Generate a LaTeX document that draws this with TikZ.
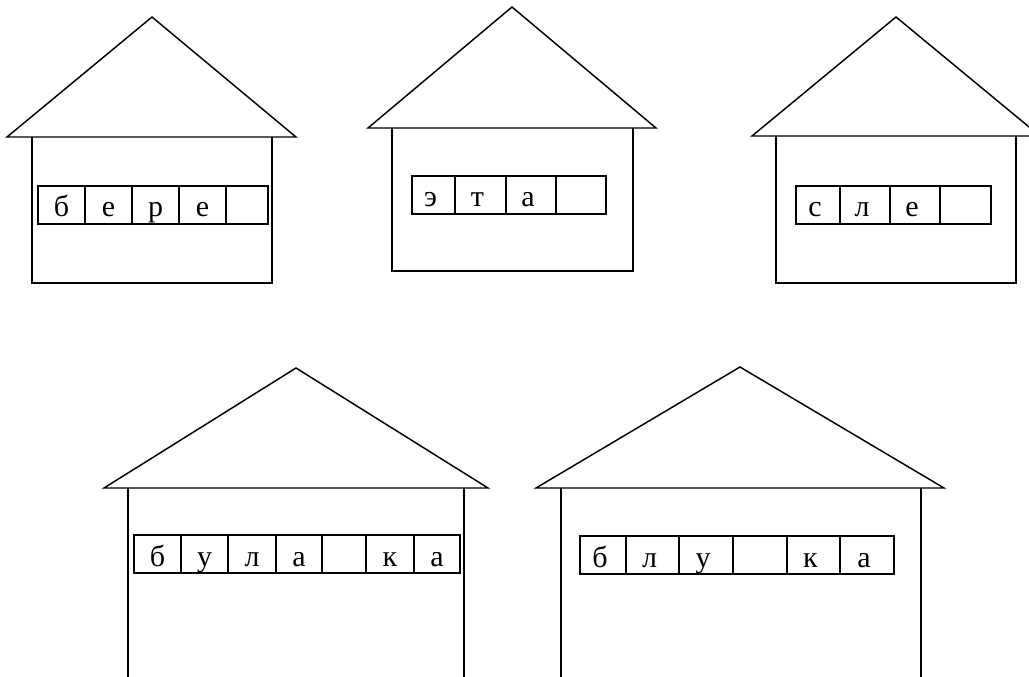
\documentclass[tikz,border=0pt]{standalone}
\usepackage{fontspec}
\setmainfont{Liberation Serif}
\usepackage{tikz}

\tikzset{
  wall/.style={line width=1.1pt, line join=miter},
  cellbox/.style={line width=1.2pt},
  letter/.style={font=\fontsize{22.5}{22.5}\selectfont, anchor=base, inner sep=0pt},
}

\begin{document}
\begin{tikzpicture}[x=0.75pt, y=-0.75pt]
\useasboundingbox (0,0) rectangle (1029,676);
\clip (0,0) rectangle (1029,676);
% ---- top row ----
% house 1: бере_
\draw[wall] (7,137) -- (152,17) -- (296,137) -- cycle;
\draw[wall] (32,137) -- (32,283) -- (272,283) -- (272,137);
\foreach \xa/\xb/\ch [count=\i] in {38/85/б, 85/132/е, 132/179/р, 179/226/е, 226/268/{}} {
  \draw[cellbox] (\xa,186) rectangle (\xb,224);
  \node[letter] (a\i) at ({(\xa+\xb)/2},216) {\ch};
}
% house 2: эта_
\draw[wall] (368,128) -- (512,7) -- (656,128) -- cycle;
\draw[wall] (392,128) -- (392,271) -- (633,271) -- (633,128);
\foreach \xa/\xb/\ch [count=\i] in {412/455/э, 455/506/т, 506/556/а, 556/606/{}} {
  \draw[cellbox] (\xa,176) rectangle (\xb,214);
  \node[letter] (b\i) at ({(\xa+\xb)/2-3},206) {\ch};
}
% house 3: сле_ (roof runs off the right edge)
\draw[wall] (752,136) -- (896,17) -- (1040,136) -- cycle;
\draw[wall] (776,136) -- (776,283) -- (1016,283) -- (1016,136);
\foreach \xa/\xb/\ch [count=\i] in {796/840/с, 840/890/л, 890/940/е, 940/991/{}} {
  \draw[cellbox] (\xa,186) rectangle (\xb,224);
  \node[letter] (c\i) at ({(\xa+\xb)/2-3},216) {\ch};
}
% ---- bottom row: walls run off the lower edge ----
% house 4: була_ка
\draw[wall] (104,488) -- (296,368) -- (488,488) -- cycle;
\draw[wall] (128,488) -- (128,690);
\draw[wall] (464,488) -- (464,690);
\foreach \xa/\xb/\ch [count=\i] in {134/181/б, 181/228/у, 228/276/л, 276/322/а, 322/366/{}, 366/414/к, 414/460/а} {
  \draw[cellbox] (\xa,535) rectangle (\xb,573);
  \node[letter] (d\i) at ({(\xa+\xb)/2},566) {\ch};
}
% house 5: блу_ка
\draw[wall] (536,488) -- (740,367) -- (944,488) -- cycle;
\draw[wall] (561,488) -- (561,690);
\draw[wall] (921,488) -- (921,690);
\foreach \xa/\xb/\ch [count=\i] in {580/626/б, 626/679/л, 679/733/у, 733/787/{}, 787/840/к, 840/894/а} {
  \draw[cellbox] (\xa,536) rectangle (\xb,574);
  \node[letter] (e\i) at ({(\xa+\xb)/2-3},567) {\ch};
}
\end{tikzpicture}
\end{document}
